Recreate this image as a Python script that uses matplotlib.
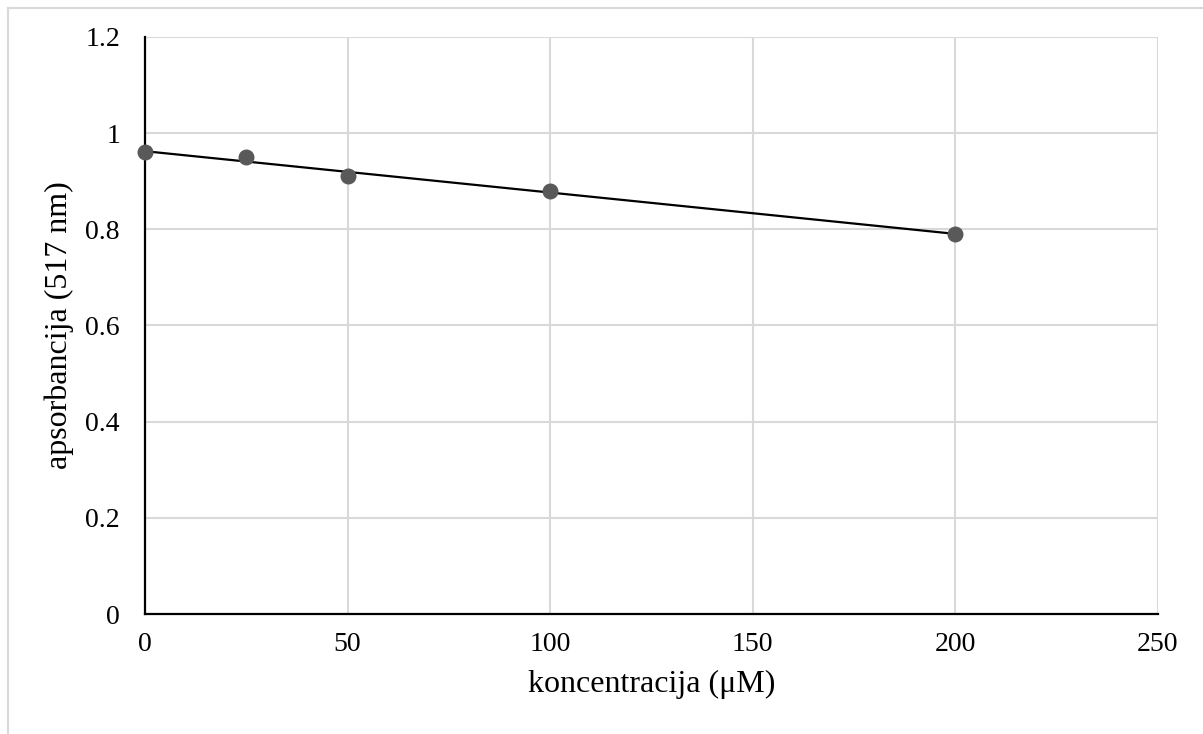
import numpy as np
import matplotlib
matplotlib.use("Agg")
import matplotlib.pyplot as plt
from matplotlib.lines import Line2D
from matplotlib.ticker import FuncFormatter

# concentration (uM) and absorbance at 517 nm
konc = [0, 25, 50, 100, 200]
aps = [0.96, 0.95, 0.91, 0.88, 0.79]

plt.rcParams['font.family'] = ['Liberation Serif', 'DejaVu Serif']

fig = plt.figure(figsize=(12.03, 7.34), dpi=100)
ax = fig.add_axes([145 / 1203, 120 / 734, 1013 / 1203, 577 / 734])

# linear trendline over data range
k, n = np.polyfit(konc, aps, 1)
xs = np.array([min(konc), max(konc)])
ax.plot(xs, k * xs + n, color='black', lw=1.6, zorder=3)
ax.scatter(konc, aps, s=110, color='#595959', zorder=4, clip_on=False)

ax.set_xlim(0, 250)
ax.set_ylim(0, 1.2)
ax.set_xticks(np.arange(0, 251, 50))
ax.set_yticks(np.arange(0, 1.21, 0.2))
ax.yaxis.set_major_formatter(FuncFormatter(lambda v, p: '%g' % round(v, 2)))
ax.grid(True, color='#d9d9d9', lw=1.5)
ax.set_axisbelow(True)
ax.tick_params(length=0, labelsize=20)
ax.tick_params(axis='x', pad=13)
ax.tick_params(axis='y', pad=18)
for s in ['top', 'right']:
    ax.spines[s].set_visible(False)
for s in ['left', 'bottom']:
    ax.spines[s].set_linewidth(1.6)
    ax.spines[s].set_zorder(2.5)

ax.set_xlabel('koncentracija (μM)', fontsize=23, labelpad=9)
ax.set_ylabel('apsorbancija (517 nm)', fontsize=23, labelpad=8)

# light chart-area border (left and top only visible)
fig.add_artist(Line2D([7.5 / 1203, 7.5 / 1203], [0, 1 - 7.5 / 734], color='#d9d9d9', lw=1.5))
fig.add_artist(Line2D([7.5 / 1203, 1], [1 - 7.5 / 734, 1 - 7.5 / 734], color='#d9d9d9', lw=1.5))

fig.savefig('out.png', dpi=100)
